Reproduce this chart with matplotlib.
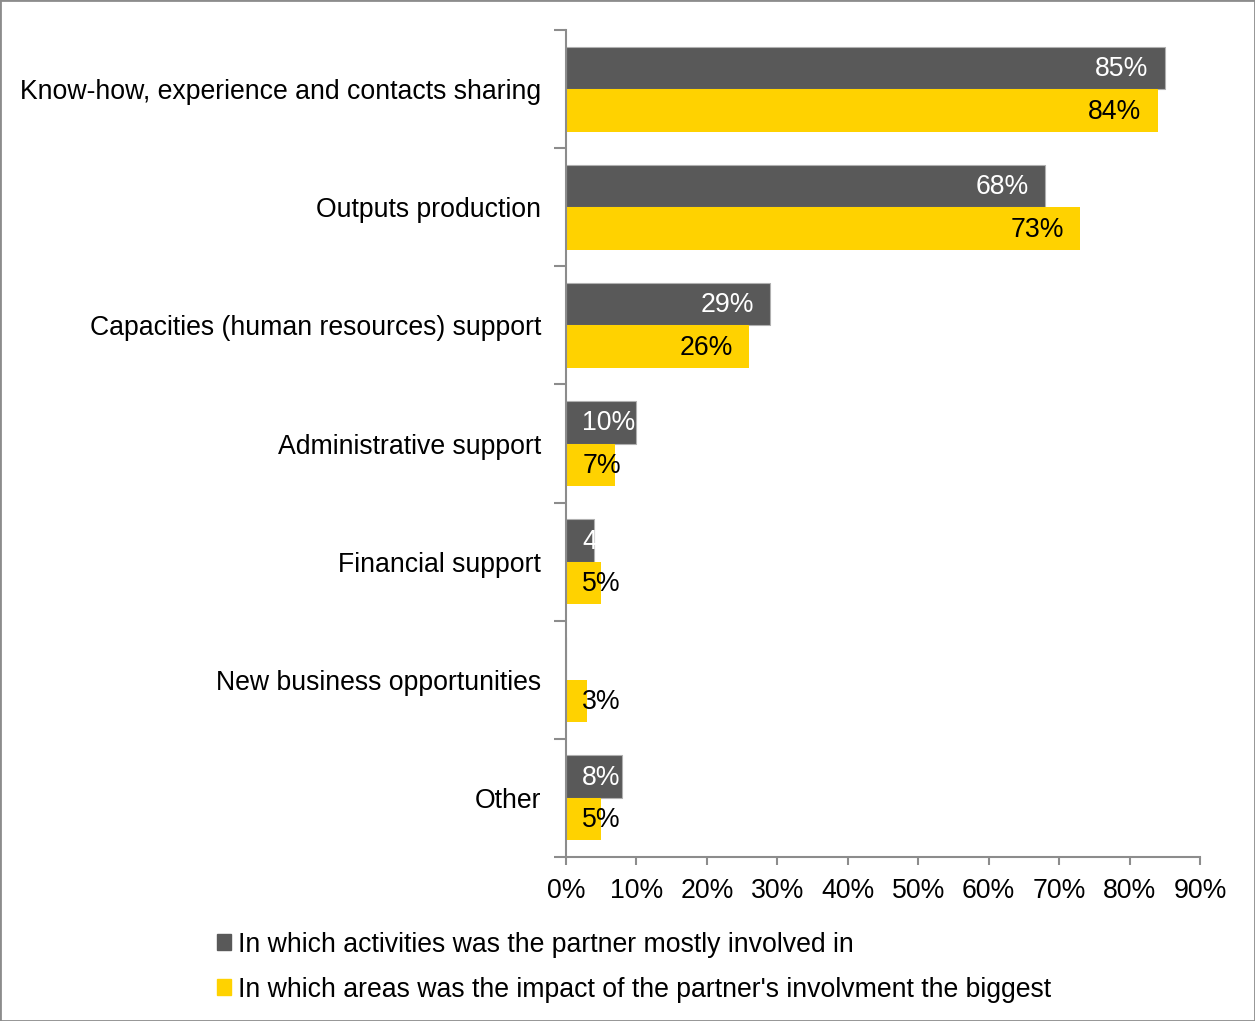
import matplotlib
matplotlib.use("Agg")
import matplotlib.pyplot as plt
from matplotlib.patches import Patch, Rectangle
from matplotlib.ticker import FixedLocator, PercentFormatter
import numpy as np

plt.rcParams['font.family'] = ['Liberation Sans', 'DejaVu Sans']

categories = ["Know-how, experience and contacts sharing",
              "Outputs production",
              "Capacities (human resources) support",
              "Administrative support",
              "Financial support",
              "New business opportunities",
              "Other"]
involved = [85, 68, 29, 10, 4, 0, 8]
impact = [84, 73, 26, 7, 5, 3, 5]
series_names = ["In which activities was the partner mostly involved in",
                "In which areas was the impact of the partner's involvment the biggest"]

GREY = "#595959"
YELLOW = "#FFD200"
AXIS = "#8c8c8c"
FS = 19.2

W, H, DPI = 1255, 1021, 100
fig = plt.figure(figsize=(W / DPI, H / DPI), dpi=DPI)
ax = fig.add_axes([566 / W, 1 - 857 / H, (1200 - 566) / W, (857 - 30) / H])

y = np.arange(len(categories))
h = 0.36
ax.barh(y - h / 2, involved, height=h, color=GREY, edgecolor="#b0b0b0", linewidth=0.8)
ax.barh(y + h / 2, impact, height=h, color=YELLOW, edgecolor="none")

ax.set_xlim(0, 90)
ax.set_ylim(len(categories) - 0.5, -0.5)

# value labels: inside the bar end, or from the bar base when the bar is short
pad = 2.3
for vals, dy, col in [(involved, -h / 2, "white"), (impact, h / 2, "black")]:
    for yi, v in zip(y, vals):
        if v == 0:
            continue
        if v >= 15:
            ax.text(v - pad, yi + dy + 0.01, f"{v}%", ha="right", va="center",
                    color=col, fontsize=FS)
        else:
            ax.text(pad, yi + dy + 0.01, f"{v}%", ha="left", va="center",
                    color=col, fontsize=FS)

ax.set_yticks(y)
ax.set_yticklabels(categories, fontsize=FS)
ax.yaxis.set_minor_locator(FixedLocator(np.arange(-0.5, len(categories), 1)))
ax.tick_params(axis="y", which="major", length=0, pad=18)
ax.tick_params(axis="y", which="minor", length=9, width=1.5, color=AXIS, direction="out")

ax.set_xticks(np.arange(0, 91, 10))
ax.xaxis.set_major_formatter(PercentFormatter(decimals=0))
ax.tick_params(axis="x", length=6, width=1.5, color=AXIS, labelsize=FS, pad=9)

for s in ["top", "right"]:
    ax.spines[s].set_visible(False)
for s in ["left", "bottom"]:
    ax.spines[s].set_color(AXIS)
    ax.spines[s].set_linewidth(1.5)

handles = [Patch(color=GREY), Patch(color=YELLOW)]
fig.legend(handles, series_names, loc="upper left",
           bbox_to_anchor=(206 / W, 1 - 921 / H), frameon=False,
           fontsize=FS, handlelength=0.55, handleheight=0.55,
           handletextpad=0.25, labelspacing=0.72, borderaxespad=0)

fig.patches.append(Rectangle((0, 0), 1, 1, transform=fig.transFigure,
                             fill=False, edgecolor=AXIS, linewidth=2))

fig.savefig("out.png", dpi=DPI)
